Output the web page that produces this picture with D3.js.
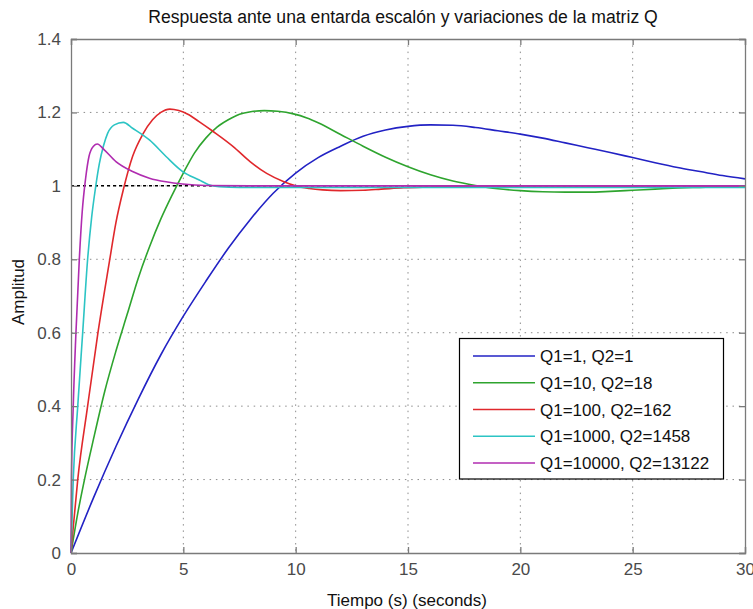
<!DOCTYPE html>
<html>
<head>
<meta charset="utf-8">
<script src="https://cdn.jsdelivr.net/npm/d3@7"></script>
<style>
  html, body { margin: 0; padding: 0; background: #fff; }
  svg { display: block; font-family: "Liberation Sans", Arial, sans-serif; }
</style>
</head>
<body>
<svg id="chart" width="753" height="609"></svg>
<script>
// Step responses for several weightings of the Q matrix (time in s, amplitude)
const tQ1 = [0, 1, 2, 3, 4, 5, 6, 7, 8, 9, 10, 11, 12, 13, 14, 15, 16, 17, 18, 19, 20, 21, 22, 23, 24, 25, 26, 27, 28, 29, 30];
const yQ1 = [0, 0.15, 0.29, 0.42, 0.54, 0.645, 0.74, 0.83, 0.91, 0.98, 1.035, 1.077, 1.108, 1.135, 1.152, 1.162, 1.166, 1.165, 1.159, 1.15, 1.141, 1.13, 1.117, 1.104, 1.091, 1.077, 1.063, 1.05, 1.039, 1.028, 1.019];

const tQ10 = [0, 0.3, 0.6, 1, 1.5, 2, 2.5, 3, 3.5, 4, 4.5, 5, 5.5, 6, 6.5, 7, 7.5, 8, 8.6, 9.2, 9.9, 10.5, 11, 12, 13, 14, 15, 16, 17, 18, 19, 20, 21, 22, 23, 24, 25, 26, 27, 28, 29, 30];
const yQ10 = [0, 0.108, 0.2, 0.31, 0.44, 0.55, 0.65, 0.75, 0.835, 0.91, 0.975, 1.035, 1.09, 1.13, 1.16, 1.18, 1.195, 1.202, 1.205, 1.203, 1.196, 1.185, 1.172, 1.14, 1.108, 1.078, 1.052, 1.03, 1.013, 1.001, 0.992, 0.987, 0.984, 0.983, 0.983, 0.985, 0.988, 0.991, 0.994, 0.996, 0.998, 0.999];

const tQ100 = [0, 0.1, 0.3, 0.74, 1.2, 1.7, 2.0, 2.33, 2.74, 3.19, 3.63, 4.0, 4.4, 4.8, 5.2, 5.7, 6.33, 7.22, 7.97, 8.71, 9.45, 10.0, 10.6, 11.2, 12.0, 13.0, 13.8, 14.8, 16.0, 17.5, 20.0, 24.0, 25.5, 27.3, 28.5, 30];
const yQ100 = [0, 0.07, 0.2, 0.4, 0.6, 0.79, 0.9, 0.99, 1.08, 1.14, 1.18, 1.2, 1.209, 1.205, 1.195, 1.175, 1.148, 1.107, 1.066, 1.034, 1.012, 1.0, 0.993, 0.989, 0.987, 0.988, 0.991, 0.995, 0.997, 0.999, 1.0, 0.999, 0.997, 0.997, 0.999, 1.0];

const tQ1000 = [0, 0.1, 0.3, 0.52, 0.74, 0.92, 1.08, 1.26, 1.45, 1.63, 1.93, 2.33, 2.74, 3.49, 4.23, 4.97, 5.71, 6.1, 6.6, 7.5, 9, 12, 16, 20, 25, 30];
const yQ1000 = [0, 0.2, 0.4, 0.6, 0.8, 0.915, 0.99, 1.06, 1.11, 1.143, 1.166, 1.173, 1.157, 1.125, 1.08, 1.039, 1.016, 1.004, 0.998, 0.996, 0.996, 0.996, 0.996, 0.996, 0.996, 0.996];

const tQ10000 = [0, 0.02, 0.1, 0.22, 0.37, 0.5, 0.65, 0.8, 1.0, 1.17, 1.48, 2.0, 2.74, 3.49, 4.23, 4.97, 6.0, 8.0, 30];
const yQ10000 = [0, 0.2, 0.4, 0.6, 0.8, 0.93, 1.02, 1.08, 1.108, 1.114, 1.098, 1.066, 1.039, 1.021, 1.011, 1.005, 1.001, 1.0, 1.0];

const seriesNames = ["Q1=1, Q2=1", "Q1=10, Q2=18", "Q1=100, Q2=162", "Q1=1000, Q2=1458", "Q1=10000, Q2=13122"];
const seriesColors = ["#2222c4", "#2ea42e", "#e0282c", "#2cc4c4", "#b02cb0"];
const seriesT = [tQ1, tQ10, tQ100, tQ1000, tQ10000];
const seriesY = [yQ1, yQ10, yQ100, yQ1000, yQ10000];

const xTicks = [0, 5, 10, 15, 20, 25, 30];
const yTicks = [0, 0.2, 0.4, 0.6, 0.8, 1, 1.2, 1.4];

const titleText = "Respuesta ante una entarda escalón y variaciones de la matriz Q";
const xLabelText = "Tiempo (s) (seconds)";
const yLabelText = "Amplitud";

const plot = { left: 71, right: 745, top: 39, bottom: 553 };

const svg = d3.select("#chart");
const x = d3.scaleLinear().domain([0, 30]).range([plot.left, plot.right]);
const y = d3.scaleLinear().domain([0, 1.4]).range([plot.bottom, plot.top]);

const axisGray = "#7a7a7a";
const fontSize = 17;

// dotted grid
const grid = svg.append("g");
grid.selectAll("line.vx").data(xTicks.slice(1, -1)).join("line")
  .attr("x1", d => x(d)).attr("x2", d => x(d))
  .attr("y1", plot.top).attr("y2", plot.bottom)
  .attr("stroke", "#8c8c8c").attr("stroke-width", 1).attr("stroke-dasharray", "1.5,4.8");
grid.selectAll("line.hy").data(yTicks.slice(1, -1)).join("line")
  .attr("x1", plot.left).attr("x2", plot.right)
  .attr("y1", d => y(d)).attr("y2", d => y(d))
  .attr("stroke", "#8c8c8c").attr("stroke-width", 1).attr("stroke-dasharray", "1.5,4.8");

// steady-state reference
svg.append("line")
  .attr("x1", x(0)).attr("x2", x(30)).attr("y1", y(1)).attr("y2", y(1))
  .attr("stroke", "#000").attr("stroke-width", 1.5).attr("stroke-dasharray", "3,3");

// response curves
const line = d3.line().x(d => x(d[0])).y(d => y(d[1])).curve(d3.curveMonotoneX);
const curves = svg.append("g");
seriesNames.forEach((name, i) => {
  const pts = seriesT[i].map((t, k) => [t, seriesY[i][k]]);
  curves.append("path").datum(pts)
    .attr("d", line)
    .attr("fill", "none")
    .attr("stroke", seriesColors[i])
    .attr("stroke-width", 1.6)
    .attr("stroke-linejoin", "round");
});

// axes with inward ticks on all four sides
const tickLen = 6;
const fmt = d => d3.format("~g")(d);
svg.append("g").attr("transform", `translate(0,${plot.bottom})`)
  .call(d3.axisBottom(x).tickValues(xTicks).tickSize(-tickLen).tickPadding(10).tickFormat(fmt));
svg.append("g").attr("transform", `translate(0,${plot.top})`)
  .call(d3.axisTop(x).tickValues(xTicks).tickSize(-tickLen).tickFormat(""));
svg.append("g").attr("transform", `translate(${plot.left},0)`)
  .call(d3.axisLeft(y).tickValues(yTicks).tickSize(-tickLen).tickPadding(10).tickFormat(fmt));
svg.append("g").attr("transform", `translate(${plot.right},0)`)
  .call(d3.axisRight(y).tickValues(yTicks).tickSize(-tickLen).tickFormat(""));

svg.selectAll(".domain").attr("stroke", axisGray).attr("stroke-width", 1.3);
svg.selectAll(".tick line").attr("stroke", axisGray).attr("stroke-width", 1.3);
svg.selectAll(".tick text")
  .attr("fill", "#4a4a4a")
  .style("font-size", fontSize + "px")
  .style("font-family", '"Liberation Sans", Arial, sans-serif');

// legend
const legend = svg.append("g");
legend.append("rect")
  .attr("x", 459.5).attr("y", 338.5).attr("width", 264).attr("height", 140.5)
  .attr("fill", "#fff").attr("stroke", "#000").attr("stroke-width", 1.2);
const rowY = d3.scaleLinear().domain([0, 4]).range([356, 463]);
seriesNames.forEach((name, i) => {
  legend.append("line")
    .attr("x1", 473).attr("x2", 535)
    .attr("y1", rowY(i)).attr("y2", rowY(i))
    .attr("stroke", seriesColors[i]).attr("stroke-width", 1.6);
  legend.append("text")
    .attr("x", 540).attr("y", rowY(i)).attr("dy", "0.36em")
    .style("font-size", fontSize + "px")
    .attr("fill", "#111")
    .text(name);
});

// title and axis labels
svg.append("text")
  .attr("x", 403).attr("y", 23)
  .attr("text-anchor", "middle")
  .style("font-size", "17.6px")
  .attr("fill", "#111")
  .text(titleText);
svg.append("text")
  .attr("x", 407).attr("y", 606)
  .attr("text-anchor", "middle")
  .style("font-size", fontSize + "px")
  .attr("fill", "#111")
  .text(xLabelText);
svg.append("text")
  .attr("transform", `translate(24,292) rotate(-90)`)
  .attr("text-anchor", "middle")
  .style("font-size", fontSize + "px")
  .attr("fill", "#111")
  .text(yLabelText);
</script>
</body>
</html>
